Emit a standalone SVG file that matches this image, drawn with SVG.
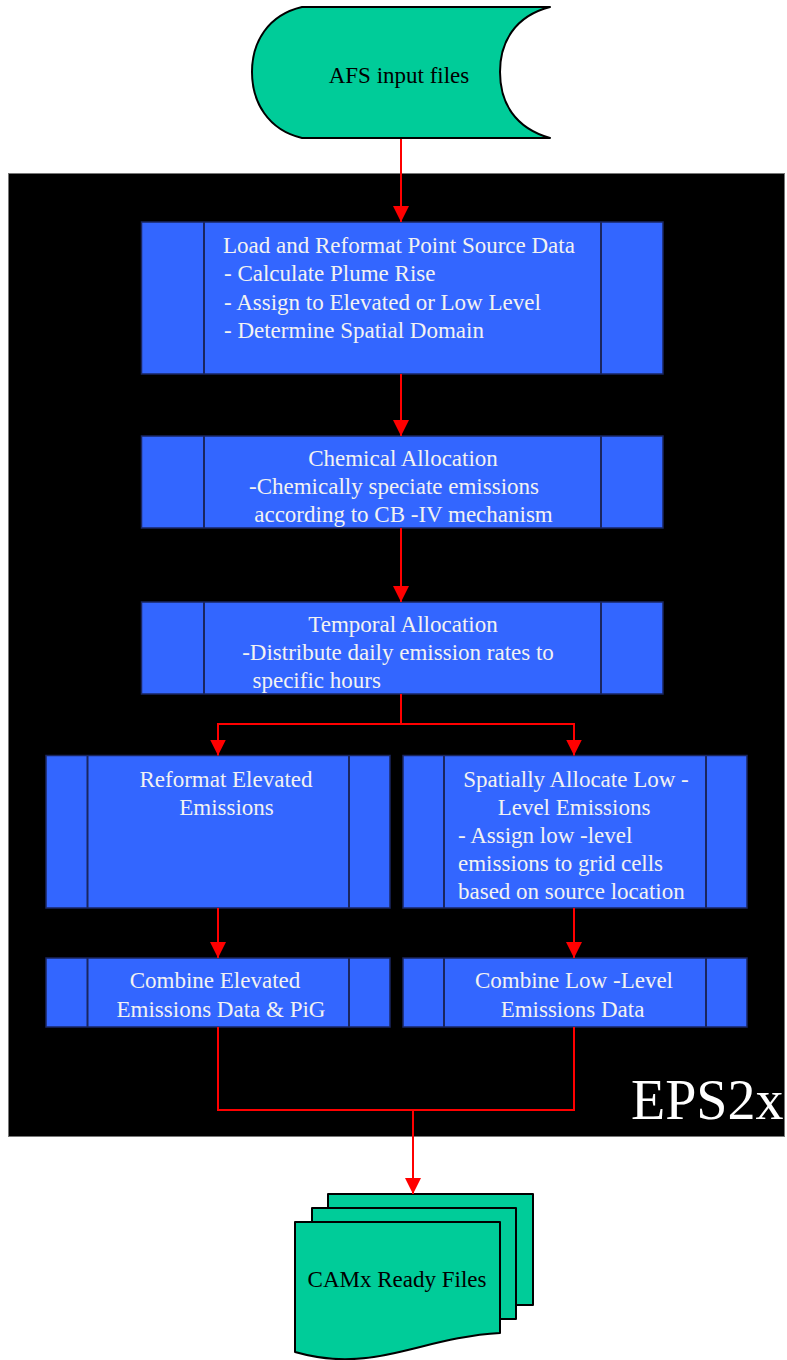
<svg xmlns="http://www.w3.org/2000/svg" width="787" height="1360" viewBox="0 0 787 1360">
<style>
.box{fill:#3366FF;stroke:#1a2660;stroke-width:1.5}
.dv{stroke:#1a2660;stroke-width:2}
.t{font-family:"Liberation Serif","Times New Roman",serif;font-size:23px;fill:#F2F2F2}
.m{text-anchor:middle}
.dk{fill:#000}
.g{fill:#00CC99;stroke:#000;stroke-width:2;stroke-linejoin:round}
.c{stroke:#FF0000;stroke-width:2;fill:none}
</style>
<defs>
<marker id="ah" markerUnits="userSpaceOnUse" markerWidth="16" markerHeight="16" viewBox="0 0 16 16" refX="16" refY="8" orient="auto">
<path d="M0,0 L16,8 L0,16 Z" fill="#FF0000"/>
</marker>
</defs>
<rect width="787" height="1360" fill="#FFFFFF"/>
<g id="eps2x-panel">
<rect x="8.5" y="173.5" width="776" height="963" fill="#000" stroke="#777" stroke-width="1"/>
<text x="631" y="1119" style="font-family:'Liberation Serif','Times New Roman',serif;font-size:56px;fill:#FFFFFF">EPS2x</text>
</g>
<g id="afs-input">
<path class="g" d="M302,7 L550,7 C515,16 500,42 500,72 C500,103 515,128 550,138 L302,138 C268,130 252,102 252,72 C252,42 268,15 302,7 Z"/>
<text class="t m dk" x="399" y="83">AFS input files</text>
</g>
<g id="load-reformat">
<rect class="box" x="141.5" y="222" width="521.5" height="152"/>
<line class="dv" x1="204" y1="222" x2="204" y2="374"/>
<line class="dv" x1="601" y1="222" x2="601" y2="374"/>
<text class="t" x="223" y="253">Load and Reformat Point Source Data</text>
<text class="t" x="224" y="281">- Calculate Plume Rise</text>
<text class="t" x="224" y="310">- Assign to Elevated or Low Level</text>
<text class="t" x="224" y="338">- Determine Spatial Domain</text>
</g>
<g id="chemical-allocation">
<rect class="box" x="141.5" y="436" width="521.5" height="92"/>
<line class="dv" x1="204" y1="436" x2="204" y2="528"/>
<line class="dv" x1="601" y1="436" x2="601" y2="528"/>
<text class="t m" x="403" y="466">Chemical Allocation</text>
<text class="t m" x="394" y="494">-Chemically speciate emissions</text>
<text class="t m" x="403.5" y="522">according to CB -IV mechanism</text>
</g>
<g id="temporal-allocation">
<rect class="box" x="141.5" y="602" width="521.5" height="92"/>
<line class="dv" x1="204" y1="602" x2="204" y2="694"/>
<line class="dv" x1="601" y1="602" x2="601" y2="694"/>
<text class="t m" x="403" y="632">Temporal Allocation</text>
<text class="t m" x="398" y="660">-Distribute daily emission rates to</text>
<text class="t" x="252.5" y="688">specific hours</text>
</g>
<g id="reformat-elevated">
<rect class="box" x="46" y="755.5" width="344" height="152.5"/>
<line class="dv" x1="87.5" y1="755.5" x2="87.5" y2="908"/>
<line class="dv" x1="349" y1="755.5" x2="349" y2="908"/>
<text class="t m" x="226" y="787">Reformat Elevated</text>
<text class="t m" x="226.5" y="815">Emissions</text>
</g>
<g id="spatially-allocate">
<rect class="box" x="403" y="755.5" width="344" height="152.5"/>
<line class="dv" x1="444" y1="755.5" x2="444" y2="908"/>
<line class="dv" x1="706" y1="755.5" x2="706" y2="908"/>
<text class="t m" x="576" y="787">Spatially Allocate Low -</text>
<text class="t m" x="574" y="815">Level Emissions</text>
<text class="t" x="458" y="843">- Assign low -level</text>
<text class="t" x="458" y="871">emissions to grid cells</text>
<text class="t" x="458" y="899">based on source location</text>
</g>
<g id="combine-elevated">
<rect class="box" x="46" y="958" width="344" height="69"/>
<line class="dv" x1="87.5" y1="958" x2="87.5" y2="1027"/>
<line class="dv" x1="349" y1="958" x2="349" y2="1027"/>
<text class="t m" x="215" y="988">Combine Elevated</text>
<text class="t m" x="221" y="1017">Emissions Data &amp; PiG</text>
</g>
<g id="combine-low-level">
<rect class="box" x="403" y="958" width="344" height="69"/>
<line class="dv" x1="444" y1="958" x2="444" y2="1027"/>
<line class="dv" x1="706" y1="958" x2="706" y2="1027"/>
<text class="t m" x="574" y="988">Combine Low -Level</text>
<text class="t m" x="572.5" y="1017">Emissions Data</text>
</g>
<g id="camx-ready-files">
<rect class="g" x="328" y="1194" width="205" height="111"/>
<rect class="g" x="312" y="1208" width="204" height="111"/>
<path class="g" d="M295,1222 L500,1222 L500,1333 C462,1335 430,1345 395,1353 C360,1361 330,1362 295,1352 Z"/>
<text class="t m dk" x="397" y="1287">CAMx Ready Files</text>
</g>
<g id="connectors">
<path class="c" d="M401,139 L401,222" marker-end="url(#ah)"/>
<path class="c" d="M401,374 L401,436" marker-end="url(#ah)"/>
<path class="c" d="M401,528 L401,602" marker-end="url(#ah)"/>
<path class="c" d="M401,694 L401,724 L218,724 L218,755.5" marker-end="url(#ah)"/>
<path class="c" d="M401,724 L574,724 L574,755.5" marker-end="url(#ah)"/>
<path class="c" d="M218,908 L218,958" marker-end="url(#ah)"/>
<path class="c" d="M574,908 L574,958" marker-end="url(#ah)"/>
<path class="c" d="M218,1027 L218,1110 L574,1110 L574,1027"/>
<path class="c" d="M413,1110 L413,1194" marker-end="url(#ah)"/>
</g>
</svg>
